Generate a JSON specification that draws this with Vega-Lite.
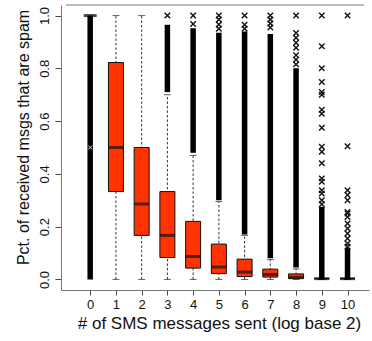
{
  "$schema": "https://vega.github.io/schema/vega-lite/v6.json",
  "autosize": "none",
  "width": 308,
  "height": 285,
  "padding": {"left": 61, "top": 5, "right": 3, "bottom": 51},
  "background": "white",
  "config": {
    "view": {"stroke": null},
    "font": "Liberation Sans"
  },
  "datasets": {
    "boxes": [
      {"cat": 1, "lo": 0, "q1": 0.333, "med": 0.5, "q3": 0.822, "hi": 1.0},
      {"cat": 2, "lo": 0, "q1": 0.167, "med": 0.286, "q3": 0.5, "hi": 1.0},
      {"cat": 3, "lo": 0, "q1": 0.083, "med": 0.167, "q3": 0.333, "hi": 0.70},
      {"cat": 4, "lo": 0, "q1": 0.043, "med": 0.087, "q3": 0.22, "hi": 0.47},
      {"cat": 5, "lo": 0, "q1": 0.022, "med": 0.047, "q3": 0.134, "hi": 0.295},
      {"cat": 6, "lo": 0, "q1": 0.011, "med": 0.028, "q3": 0.077, "hi": 0.167},
      {"cat": 7, "lo": 0, "q1": 0.009, "med": 0.019, "q3": 0.039, "hi": 0.075},
      {"cat": 8, "lo": 0, "q1": 0.003, "med": 0.008, "q3": 0.021, "hi": 0.04},
      {"cat": 9, "lo": 0, "q1": 0.003, "med": 0.003, "q3": 0.003, "hi": 0},
      {"cat": 10, "lo": 0, "q1": 0.003, "med": 0.003, "q3": 0.003, "hi": 0}
    ],
    "bands": [
      {"cat": 0, "b0": 0, "b1": 1},
      {"cat": 3, "b0": 0.71, "b1": 0.965},
      {"cat": 4, "b0": 0.48, "b1": 0.952},
      {"cat": 5, "b0": 0.30, "b1": 0.935},
      {"cat": 6, "b0": 0.17, "b1": 0.94},
      {"cat": 7, "b0": 0.08, "b1": 0.93},
      {"cat": 8, "b0": 0.045, "b1": 0.80},
      {"cat": 9, "b0": 0, "b1": 0.275},
      {"cat": 10, "b0": 0, "b1": 0.12}
    ],
    "outliers": [
      {"cat": 3, "v": 1.0},
      {"cat": 4, "v": 1.0}, {"cat": 4, "v": 0.968},
      {"cat": 5, "v": 1.0}, {"cat": 5, "v": 0.985}, {"cat": 5, "v": 0.966}, {"cat": 5, "v": 0.95},
      {"cat": 6, "v": 1.0}, {"cat": 6, "v": 0.965}, {"cat": 6, "v": 0.95},
      {"cat": 7, "v": 1.0}, {"cat": 7, "v": 0.985}, {"cat": 7, "v": 0.97}, {"cat": 7, "v": 0.955},
      {"cat": 8, "v": 1.0}, {"cat": 8, "v": 0.934}, {"cat": 8, "v": 0.916}, {"cat": 8, "v": 0.897},
      {"cat": 8, "v": 0.878}, {"cat": 8, "v": 0.85}, {"cat": 8, "v": 0.833}, {"cat": 8, "v": 0.815},
      {"cat": 9, "v": 1.0}, {"cat": 9, "v": 0.884}, {"cat": 9, "v": 0.80}, {"cat": 9, "v": 0.748},
      {"cat": 9, "v": 0.71}, {"cat": 9, "v": 0.70}, {"cat": 9, "v": 0.643}, {"cat": 9, "v": 0.628},
      {"cat": 9, "v": 0.575}, {"cat": 9, "v": 0.503}, {"cat": 9, "v": 0.484}, {"cat": 9, "v": 0.44},
      {"cat": 9, "v": 0.383}, {"cat": 9, "v": 0.37}, {"cat": 9, "v": 0.338}, {"cat": 9, "v": 0.326},
      {"cat": 9, "v": 0.30}, {"cat": 9, "v": 0.285},
      {"cat": 10, "v": 1.0}, {"cat": 10, "v": 0.505}, {"cat": 10, "v": 0.338}, {"cat": 10, "v": 0.32},
      {"cat": 10, "v": 0.30}, {"cat": 10, "v": 0.256}, {"cat": 10, "v": 0.25}, {"cat": 10, "v": 0.237},
      {"cat": 10, "v": 0.212}, {"cat": 10, "v": 0.193}, {"cat": 10, "v": 0.174}, {"cat": 10, "v": 0.155},
      {"cat": 10, "v": 0.136}, {"cat": 10, "v": 0.124}
    ],
    "cap0": [{"cat": 0, "v": 1.0}],
    "mid0": [{"cat": 0, "v": 0.5}]
  },
  "encoding": {
    "x": {
      "field": "cat", "type": "quantitative",
      "scale": {"domain": [-0.94, 10.64], "nice": false, "zero": false},
      "axis": {
        "values": [0, 1, 2, 3, 4, 5, 6, 7, 8, 9, 10],
        "tickCount": 11,
        "grid": false,
        "labelOverlap": false, "labelFlush": false, "labelBound": false,
        "domain": true, "domainColor": "#777", "domainWidth": 1,
        "tickColor": "#444", "tickSize": 5, "tickWidth": 1,
        "labelFontSize": 13, "labelColor": "#111", "labelPadding": 3, "labelBaseline": "top",
        "labelFont": "Liberation Sans",
        "title": "# of SMS messages sent (log base 2)",
        "titleFontSize": 17, "titleFontWeight": "normal", "titleColor": "#111",
        "titleFont": "Liberation Sans",
        "titleX": 158, "titleY": 33, "titleBaseline": "middle", "titleAlign": "center"
      }
    }
  },
  "layer": [
    {
      "data": {"name": "boxes"},
      "mark": {"type": "rule", "color": "#333", "strokeWidth": 1, "strokeDash": [2.5, 2]},
      "encoding": {
        "y": {
          "field": "lo", "type": "quantitative",
          "scale": {"domain": [-0.04, 1.04], "nice": false, "zero": false},
          "axis": {
            "values": [0, 0.2, 0.4, 0.6, 0.8, 1.0],
            "format": ".1f",
            "grid": false,
            "labelOverlap": false, "labelFlush": false, "labelBound": false,
            "domain": true, "domainColor": "#777", "domainWidth": 1,
            "tickColor": "#444", "tickSize": 6, "tickWidth": 1,
            "labelFontSize": 13, "labelColor": "#111", "labelAngle": 270,
            "labelAlign": "center", "labelBaseline": "middle", "labelPadding": 11,
            "labelFont": "Liberation Sans",
            "title": "Pct. of received msgs that are spam",
            "titleFontSize": 16, "titleFontWeight": "normal", "titleColor": "#111",
            "titleFont": "Liberation Sans",
            "titleAngle": 270, "titleX": -38, "titleY": 132, "titleBaseline": "middle", "titleAlign": "center"
          }
        },
        "y2": {"field": "hi"}
      }
    },
    {
      "data": {"name": "boxes"},
      "mark": {"type": "tick", "orient": "horizontal", "size": 7, "thickness": 1, "color": "#222"},
      "encoding": {
        "y": {"field": "lo", "type": "quantitative"}
      }
    },
    {
      "data": {"name": "boxes"},
      "mark": {"type": "tick", "orient": "horizontal", "size": 7, "thickness": 1, "color": "#222"},
      "encoding": {
        "y": {"field": "hi", "type": "quantitative"}
      }
    },
    {
      "data": {"name": "boxes"},
      "mark": {"type": "bar", "orient": "vertical", "size": 15, "fill": "#ff3300", "stroke": "#111", "strokeWidth": 1},
      "encoding": {
        "y": {"field": "q1", "type": "quantitative"},
        "y2": {"field": "q3"}
      }
    },
    {
      "data": {"name": "boxes"},
      "mark": {"type": "tick", "orient": "horizontal", "size": 15, "thickness": 3, "color": "#111"},
      "encoding": {
        "y": {"field": "med", "type": "quantitative"}
      }
    },
    {
      "data": {"name": "bands"},
      "mark": {"type": "rule", "color": "#000", "strokeWidth": 5.5},
      "encoding": {
        "y": {"field": "b0", "type": "quantitative"},
        "y2": {"field": "b1"}
      }
    },
    {
      "data": {"name": "cap0"},
      "mark": {"type": "tick", "orient": "horizontal", "size": 13, "thickness": 3, "color": "#000"},
      "encoding": {
        "y": {"field": "v", "type": "quantitative"}
      }
    },
    {
      "data": {"name": "outliers"},
      "mark": {"type": "point", "shape": "M-1,-1L1,1M-1,1L1,-1", "filled": false, "stroke": "#111", "strokeWidth": 1.4, "size": 30, "opacity": 1},
      "encoding": {
        "y": {"field": "v", "type": "quantitative"}
      }
    },
    {
      "data": {"name": "mid0"},
      "mark": {"type": "point", "shape": "M-1,-1L1,1M-1,1L1,-1", "filled": false, "stroke": "#ddd", "strokeWidth": 1, "size": 16, "opacity": 1},
      "encoding": {
        "y": {"field": "v", "type": "quantitative"}
      }
    },
    {
      "data": {"name": "cap0"},
      "mark": {"type": "rule", "color": "#777", "strokeWidth": 1},
      "encoding": {
        "x": {"datum": -0.94, "type": "quantitative"},
        "x2": {"datum": 10.64},
        "y": {"datum": 1.04, "type": "quantitative"}
      }
    }
  ]
}
